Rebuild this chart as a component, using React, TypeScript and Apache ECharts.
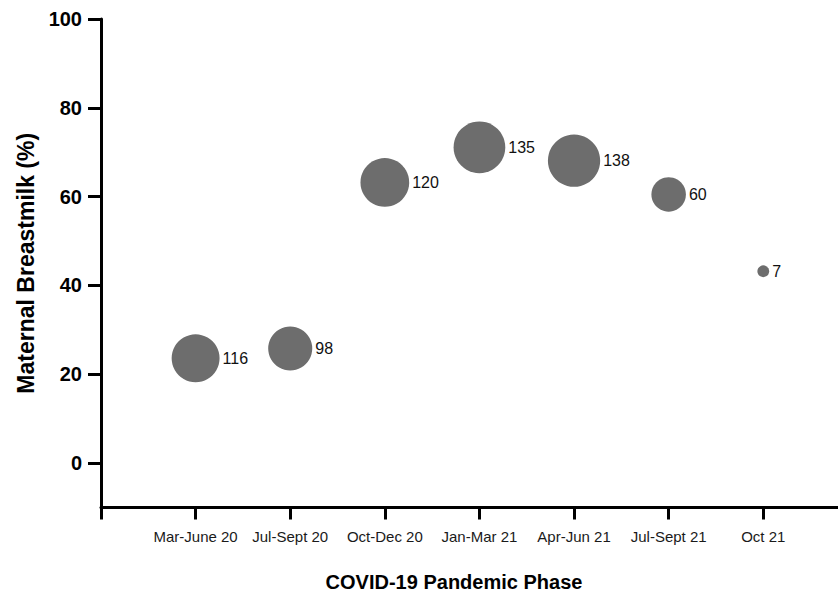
import React, { useEffect, useRef } from "react";
import * as echarts from "echarts";

const categories = ["Mar-June 20", "Jul-Sept 20", "Oct-Dec 20", "Jan-Mar 21", "Apr-Jun 21", "Jul-Sept 21", "Oct 21"];
const breastmilkPct = [23.6, 25.8, 63.2, 71.1, 68.1, 60.5, 43.2];
const sampleCounts = [116, 98, 120, 135, 138, 60, 7];
const yTicks = [0, 20, 40, 60, 80, 100];

const FONT = "'Liberation Sans', Arial, Helvetica, sans-serif";

export default function App() {
  const ref = useRef<HTMLDivElement>(null);
  useEffect(() => {
    if (!ref.current) return;
    const chart = echarts.init(ref.current, null, { renderer: "svg" });
    const data = categories.map((c, i) => [i + 1, breastmilkPct[i], sampleCounts[i]]);
    chart.setOption({
      animation: false,
      backgroundColor: "#ffffff",
      textStyle: { fontFamily: FONT },
      grid: { left: 101, right: 0, top: 19, bottom: 93.5, containLabel: false, outerBoundsMode: "none" },
      xAxis: {
        type: "value",
        min: 0,
        max: 7.79,
        interval: 1,
        splitLine: { show: false },
        axisLine: { show: true, onZero: false, lineStyle: { color: "#000", width: 3 } },
        axisTick: {
          show: true,
          length: 12,
          lineStyle: { color: "#000", width: 3 },
          customValues: [0, 1, 2, 3, 4, 5, 6, 7],
        },
        axisLabel: {
          customValues: [1, 2, 3, 4, 5, 6, 7],
          formatter: (v: number) => categories[Math.round(v) - 1] ?? "",
          fontSize: 15,
          color: "#1a1a1a",
          margin: 21,
          fontFamily: FONT,
        },
      },
      yAxis: {
        type: "value",
        min: -10,
        max: 100,
        splitLine: { show: false },
        name: "Maternal Breastmilk (%)",
        nameLocation: "middle",
        nameGap: 62,
        nameTextStyle: { fontSize: 23, fontWeight: "bold", color: "#000", fontFamily: FONT },
        axisLine: { show: true, onZero: false, lineStyle: { color: "#000", width: 3 } },
        axisTick: { show: true, length: 13, lineStyle: { color: "#000", width: 3 }, customValues: yTicks },
        axisLabel: {
          customValues: yTicks,
          fontSize: 20,
          fontWeight: "bold",
          color: "#000",
          margin: 19,
          fontFamily: FONT,
        },
      },
      graphic: [
        {
          type: "text",
          x: 454,
          y: 572,
          style: {
            text: "COVID-19 Pandemic Phase",
            font: `bold 20px ${FONT}`,
            fill: "#000",
            textAlign: "center",
            textVerticalAlign: "top",
          },
        },
      ],
      series: [
        {
          type: "scatter",
          data,
          symbolSize: (d: number[]) => 4.45 * Math.sqrt(d[2]),
          itemStyle: { color: "#6d6d6d", opacity: 1 },
          label: {
            show: true,
            position: "right",
            distance: 3,
            formatter: (p: any) => String(p.value[2]),
            fontSize: 16,
            color: "#111",
            fontFamily: FONT,
          },
        },
      ],
    });
    return () => chart.dispose();
  }, []);
  return <div ref={ref} style={{ position: "fixed", left: 0, top: 0, width: 838, height: 601 }} />;
}
